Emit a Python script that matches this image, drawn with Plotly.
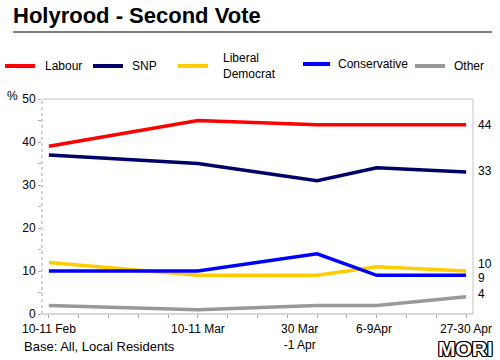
import plotly.graph_objects as go

# ---- data ----
periods = ["10-11 Feb", "10-11 Mar", "30 Mar<br>-1 Apr", "6-9Apr", "27-30 Apr"]
period_slot = [0, 5, 9, 11, 14]          # position of each fieldwork period on the time scale
labour = [39, 45, 44, 44, 44]
snp = [37, 35, 31, 34, 33]
libdem = [12, 9, 9, 11, 10]
conservative = [10, 10, 14, 9, 9]
other = [2, 1, 2, 2, 4]
y_ticks = [0, 10, 20, 30, 40, 50]

series = [
    ("Labour", labour, "#ff0000"),
    ("SNP", snp, "#000066"),
    ("Liberal<br>Democrat", libdem, "#ffcc00"),
    ("Conservative", conservative, "#0000ff"),
    ("Other", other, "#999999"),
]

FONT = "Liberation Sans, Arial, sans-serif"
L, R, T, B = 42, 27, 99, 46
W, H = 500, 360
PW, PH = W - L - R, H - T - B


def px(x):
    return (x - L) / PW


def py(y):
    return (H - B - y) / PH


fig = go.Figure()
for name, vals, col in series:
    fig.add_trace(go.Scatter(x=period_slot, y=vals, mode="lines", name=name,
                             line=dict(color=col, width=3.5), showlegend=False))

shapes = []
annotations = []

# title rule
shapes.append(dict(type="line", xref="paper", yref="paper", x0=px(13), x1=px(492),
                   y0=py(32), y1=py(32), line=dict(color="#555555", width=1.5)))
# plot frame
grey = "#c4c4c4"
shapes.append(dict(type="line", xref="paper", yref="paper", x0=0, x1=1, y0=1, y1=1,
                   line=dict(color=grey, width=1)))
shapes.append(dict(type="line", xref="paper", yref="paper", x0=1, x1=1, y0=0, y1=1,
                   line=dict(color=grey, width=1)))
shapes.append(dict(type="line", xref="paper", yref="paper", x0=0, x1=1, y0=0, y1=0,
                   line=dict(color="#b0b0b0", width=1)))
shapes.append(dict(type="line", xref="paper", yref="paper", x0=0, x1=0, y0=0, y1=1,
                   line=dict(color="#a8a8a8", width=1, dash="dot")))

# manual legend
leg_lines = [(5, 35, 66), (93, 123, 66), (178, 208, 66), (303, 330, 64), (415, 445, 66)]
leg_text_x = [43, 130, 221, 336, 452]
for (name, vals, col), (x0, x1, yy), tx in zip(series, leg_lines, leg_text_x):
    shapes.append(dict(type="line", xref="paper", yref="paper", x0=px(x0), x1=px(x1),
                       y0=py(yy), y1=py(yy), line=dict(color=col, width=4)))
    annotations.append(dict(text=name, xref="paper", yref="paper", x=px(tx), y=py(yy),
                            xanchor="left", yanchor="middle", showarrow=False, align="left",
                            font=dict(size=12, color="#000", family=FONT)))

# x labels
x_label_slot = [0, 5, 8.4, 10.9, 14]
for lab, xs in zip(periods, x_label_slot):
    annotations.append(dict(text=lab, xref="x", yref="paper", x=xs, y=0, yshift=-6,
                            xanchor="center", yanchor="top", showarrow=False,
                            font=dict(size=12, color="#000", family=FONT)))

# end-value labels
end_shift = [0, 1, 7, -3, 3]
order_vals = [labour[-1], snp[-1], libdem[-1], conservative[-1], other[-1]]
for v, sh in zip(order_vals, end_shift):
    annotations.append(dict(text=str(v), xref="paper", yref="y", x=px(476), y=v, yshift=sh,
                            xanchor="left", yanchor="middle", showarrow=False,
                            font=dict(size=12, color="#000", family=FONT)))

annotations.append(dict(text="%", xref="paper", yref="paper", x=px(12), y=py(96),
                        xanchor="center", yanchor="middle", showarrow=False,
                        font=dict(size=12, color="#000", family=FONT)))
annotations.append(dict(text="Base: All, Local Residents", xref="paper", yref="paper",
                        x=px(22), y=py(346), xanchor="left", yanchor="middle", showarrow=False,
                        font=dict(size=13, color="#000", family=FONT)))
annotations.append(dict(text="MORI", xref="paper", yref="paper",
                        x=px(465), y=py(348), xanchor="center", yanchor="middle", showarrow=False,
                        font=dict(size=21, color="#ffffff", family=FONT, weight="bold",
                                  shadow="1px 0 0 #000, -1px 0 0 #000, 0 1px 0 #000, 0 -1px 0 #000, 1px 1px 0 #000, -1px -1px 0 #000, 1px -1px 0 #000, -1px 1px 0 #000")))

fig.update_layout(
    width=W, height=H,
    margin=dict(l=L, r=R, t=T, b=B, pad=0),
    paper_bgcolor="#ffffff", plot_bgcolor="#ffffff",
    title=dict(text="<b>Holyrood - Second Vote</b>", xref="container", yref="container",
               x=13 / W, y=1 - 15 / H, xanchor="left", yanchor="middle",
               font=dict(size=22, color="#000", family=FONT)),
    xaxis=dict(range=[-0.23, 14.23], tickvals=list(range(15)), ticktext=[""] * 15,
               ticks="outside", ticklen=3, tickcolor="#aaaaaa", showgrid=False,
               zeroline=False, showline=False, fixedrange=True),
    yaxis=dict(range=[0, 50], tickvals=y_ticks, ticks="outside", ticklen=3,
               tickcolor="#aaaaaa", showgrid=False, zeroline=False, showline=False,
               tickfont=dict(size=12, color="#000", family=FONT),
               minor=dict(dtick=5, tick0=0, ticks="outside", ticklen=3, tickcolor="#aaaaaa"),
               fixedrange=True),
    shapes=shapes,
    annotations=annotations,
    showlegend=False,
)

fig.write_html("out.html", config={"displayModeBar": False},
               post_script="document.body.style.margin='0px';")
